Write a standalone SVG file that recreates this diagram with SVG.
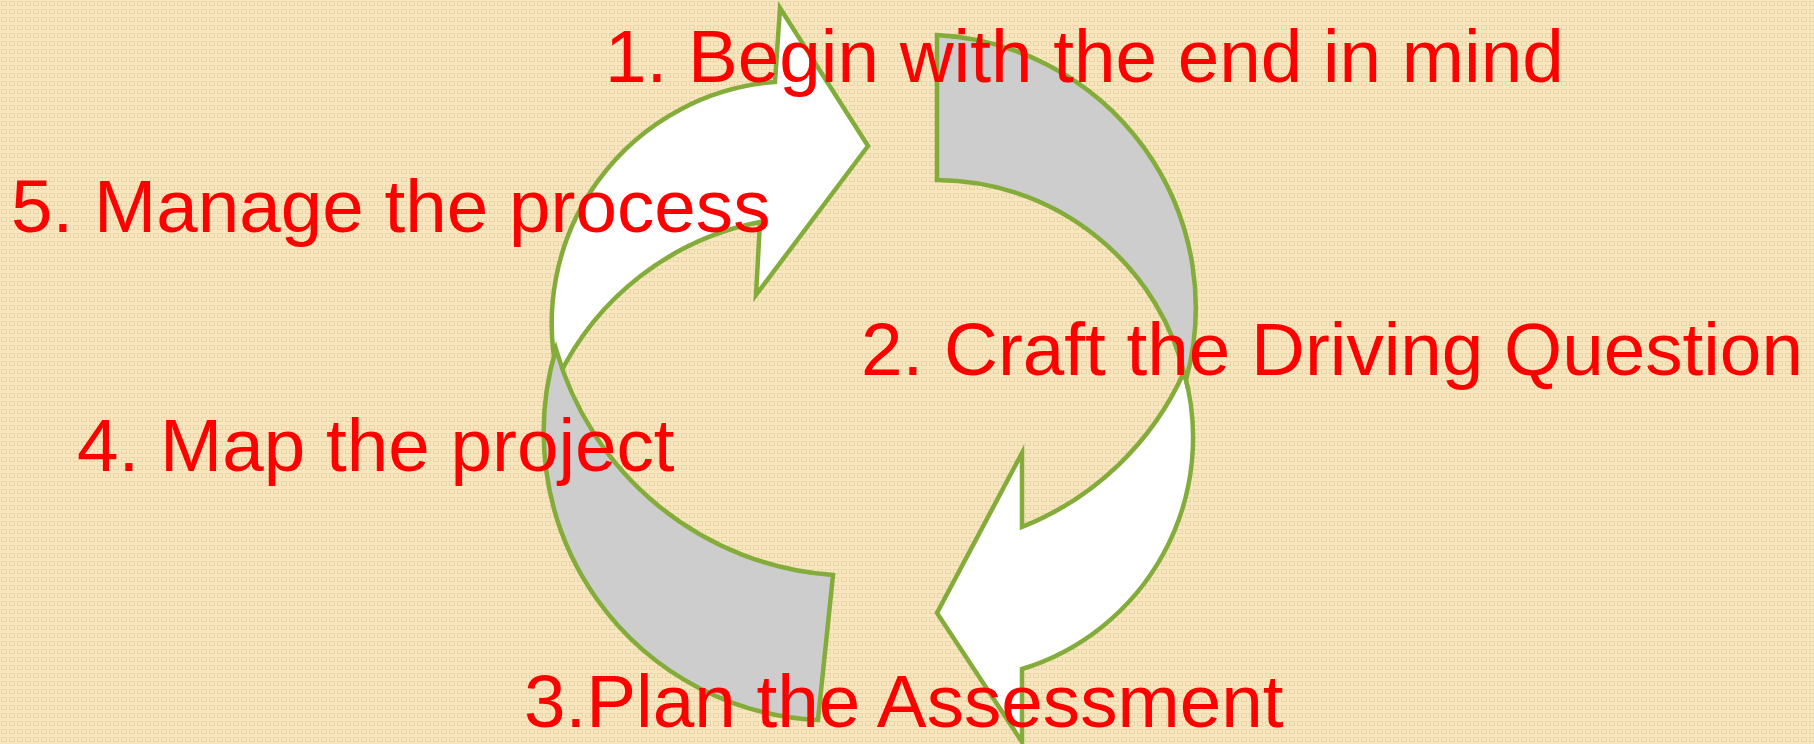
<svg xmlns="http://www.w3.org/2000/svg" width="1814" height="744" viewBox="0 0 1814 744">
  <defs>
    <pattern id="weave" width="8" height="8" patternUnits="userSpaceOnUse">
      <rect width="8" height="8" fill="#F8E6BE"/>
      <rect x="1.5" y="1.5" width="5" height="4" fill="none" stroke="#EAD5A8" stroke-width="1"/>
    </pattern>
    <style>
      .cycle { stroke: #84AC3A; stroke-width: 4.5; stroke-linejoin: miter; stroke-miterlimit: 10; }
      .arrow { fill: #FFFFFF; }
      .band { fill: #CDCDCD; }
      .label { font-family: "Liberation Sans", Arial, sans-serif; font-size: 74.67px; fill: #FF0000; }
    </style>
  </defs>

  <rect width="1814" height="744" fill="url(#weave)"/>

  <!-- cycle shapes -->
  <g id="connectors">
    <g id="arrow-top-left">
      <path class="cycle arrow" d="M 780 8 L 868 146 L 756 295 L 760 222 A 284 284 0 0 0 558 378 A 242 242 0 0 1 775 82 Z"/>
    </g>
    <g id="band-bottom-left">
      <path class="cycle band" d="M 556 349 A 288 288 0 0 0 818 720 L 833 575 A 310 310 0 0 1 556 349 Z"/>
    </g>
    <g id="arrow-bottom-right">
      <path class="cycle arrow" d="M 1022 453 L 1022 527 A 299 299 0 0 0 1184 372 A 242 242 0 0 1 1022 669 L 1022 742 L 937 613 Z"/>
    </g>
    <g id="band-top-right">
      <path class="cycle band" d="M 937 35 A 273 273 0 0 1 1186 380 A 256 256 0 0 0 937 180 Z"/>
    </g>
  </g>

  <!-- step labels -->
  <g id="step1"><text class="label" x="605" y="82">1. Begin with the end in mind</text></g>
  <g id="step2"><text class="label" x="861" y="375">2. Craft the Driving Question</text></g>
  <g id="step3"><text class="label" x="524" y="727">3.Plan the Assessment</text></g>
  <g id="step4"><text class="label" x="77" y="471">4. Map the project</text></g>
  <g id="step5"><text class="label" x="11" y="232">5. Manage the process</text></g>
</svg>
